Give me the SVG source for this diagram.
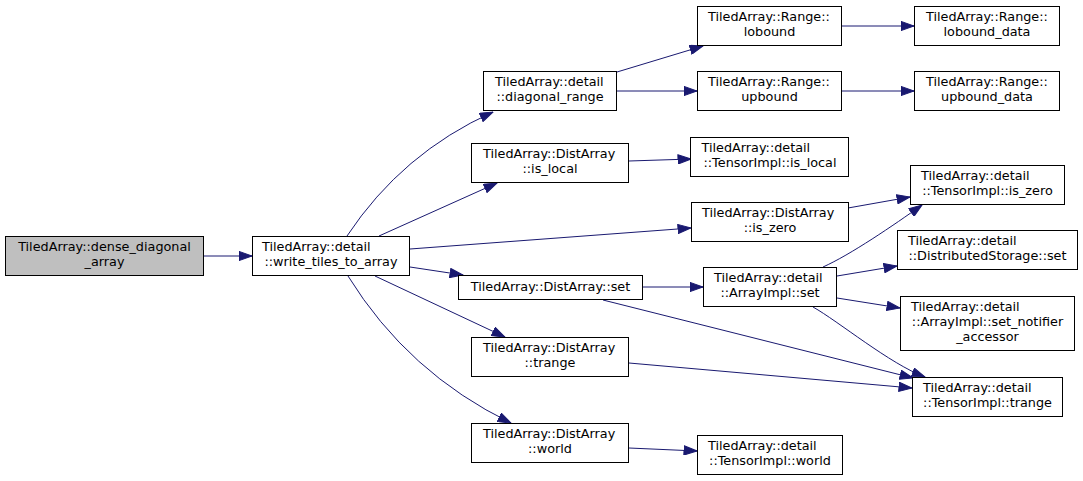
<svg xmlns="http://www.w3.org/2000/svg" width="1083" height="481" viewBox="0 0 1083 481">
<defs>
<style>
.n rect{fill:#ffffff;stroke:#000000;stroke-width:1}
.n.root rect{fill:#bfbfbf}
.n text{font-family:"DejaVu Sans",sans-serif;font-size:12.8px;fill:#000000}
.m{text-anchor:middle}
.s{text-anchor:start}
#edges path{fill:none;stroke:#191970;stroke-width:1;marker-end:url(#ah)}
</style>
<marker id="ah" markerUnits="userSpaceOnUse" markerWidth="14" markerHeight="10" viewBox="0 0 13 10" refX="13" refY="5" orient="auto">
<path d="M0,0.4 L13,5 L0,9.6 z" fill="#191970" stroke="#191970" stroke-width="1"/>
</marker>
</defs>
<rect width="1083" height="481" fill="#ffffff"/>
<g id="edges">
<path d="M204,256 L252,256"/>
<path d="M347,236 Q402,153 493,112"/>
<path d="M379,236 L497,183"/>
<path d="M410,249 L691,228"/>
<path d="M410,267 L463,275"/>
<path d="M375,276 L505,337"/>
<path d="M348,276 Q408,373 511,423"/>
<path d="M617,72 L703,46"/>
<path d="M617,91 L697,91"/>
<path d="M842,26 L914,26"/>
<path d="M842,91 L914,91"/>
<path d="M629,161 L691,159"/>
<path d="M848,208 L910,197"/>
<path d="M642,287 L703,287"/>
<path d="M603,300 L913,378"/>
<path d="M823,267 C850,255 894,225 922,205"/>
<path d="M837,276 L897,266"/>
<path d="M837,298 L900,308"/>
<path d="M813,307 C838,321 890,364 925,377"/>
<path d="M629,363 L912,388"/>
<path d="M629,448 L697,451"/>
</g>
<g id="dense_diagonal_array" class="n root"><rect x="5.5" y="236.5" width="198" height="39"/><text class="m" x="104.5" y="251">TiledArray::dense_diagonal</text><text class="m" x="104.5" y="266">_array</text></g>
<g id="write_tiles_to_array" class="n"><rect x="252.5" y="236.5" width="157" height="39"/><text class="s" x="262" y="251">TiledArray::detail</text><text class="m" x="331" y="266">::write_tiles_to_array</text></g>
<g id="diagonal_range" class="n"><rect x="483.5" y="71.5" width="133" height="39"/><text class="s" x="495" y="86">TiledArray::detail</text><text class="m" x="550" y="101">::diagonal_range</text></g>
<g id="range_lobound" class="n"><rect x="697.5" y="6.5" width="144" height="39"/><text class="s" x="708" y="21">TiledArray::Range::</text><text class="m" x="769.5" y="36">lobound</text></g>
<g id="range_upbound" class="n"><rect x="697.5" y="71.5" width="144" height="39"/><text class="s" x="708" y="86">TiledArray::Range::</text><text class="m" x="769.5" y="101">upbound</text></g>
<g id="range_lobound_data" class="n"><rect x="914.5" y="6.5" width="145" height="39"/><text class="s" x="926" y="21">TiledArray::Range::</text><text class="m" x="987" y="36">lobound_data</text></g>
<g id="range_upbound_data" class="n"><rect x="914.5" y="71.5" width="145" height="39"/><text class="s" x="926" y="86">TiledArray::Range::</text><text class="m" x="987" y="101">upbound_data</text></g>
<g id="distarray_is_local" class="n"><rect x="471.5" y="143.5" width="157" height="39"/><text class="s" x="483" y="158">TiledArray::DistArray</text><text class="m" x="550" y="173">::is_local</text></g>
<g id="tensorimpl_is_local" class="n"><rect x="690.5" y="137.5" width="158" height="39"/><text class="s" x="701.5" y="152">TiledArray::detail</text><text class="m" x="770" y="167">::TensorImpl::is_local</text></g>
<g id="distarray_is_zero" class="n"><rect x="691.5" y="202.5" width="157" height="39"/><text class="s" x="702" y="217">TiledArray::DistArray</text><text class="m" x="770" y="232">::is_zero</text></g>
<g id="tensorimpl_is_zero" class="n"><rect x="910.5" y="165.5" width="154" height="39"/><text class="s" x="921" y="180">TiledArray::detail</text><text class="m" x="987.5" y="195">::TensorImpl::is_zero</text></g>
<g id="distributedstorage_set" class="n"><rect x="897.5" y="230.5" width="180" height="39"/><text class="s" x="908" y="245">TiledArray::detail</text><text class="m" x="987.5" y="260">::DistributedStorage::set</text></g>
<g id="set_notifier_accessor" class="n"><rect x="900.5" y="296.5" width="174" height="54"/><text class="s" x="911" y="311">TiledArray::detail</text><text class="m" x="987.5" y="326">::ArrayImpl::set_notifier</text><text class="m" x="987.5" y="341">_accessor</text></g>
<g id="tensorimpl_trange" class="n"><rect x="912.5" y="377.5" width="150" height="39"/><text class="s" x="923" y="392">TiledArray::detail</text><text class="m" x="987.5" y="407">::TensorImpl::trange</text></g>
<g id="distarray_set" class="n"><rect x="458.5" y="275.5" width="184" height="24"/><text class="m" x="550.5" y="291">TiledArray::DistArray::set</text></g>
<g id="arrayimpl_set" class="n"><rect x="703.5" y="267.5" width="133" height="39"/><text class="s" x="714" y="282">TiledArray::detail</text><text class="m" x="770" y="297">::ArrayImpl::set</text></g>
<g id="distarray_trange" class="n"><rect x="471.5" y="337.5" width="157" height="39"/><text class="s" x="483" y="352">TiledArray::DistArray</text><text class="m" x="550" y="367">::trange</text></g>
<g id="distarray_world" class="n"><rect x="471.5" y="423.5" width="157" height="39"/><text class="s" x="483" y="438">TiledArray::DistArray</text><text class="m" x="550" y="453">::world</text></g>
<g id="tensorimpl_world" class="n"><rect x="697.5" y="435.5" width="145" height="39"/><text class="s" x="708" y="450">TiledArray::detail</text><text class="m" x="770" y="465">::TensorImpl::world</text></g>
</svg>
